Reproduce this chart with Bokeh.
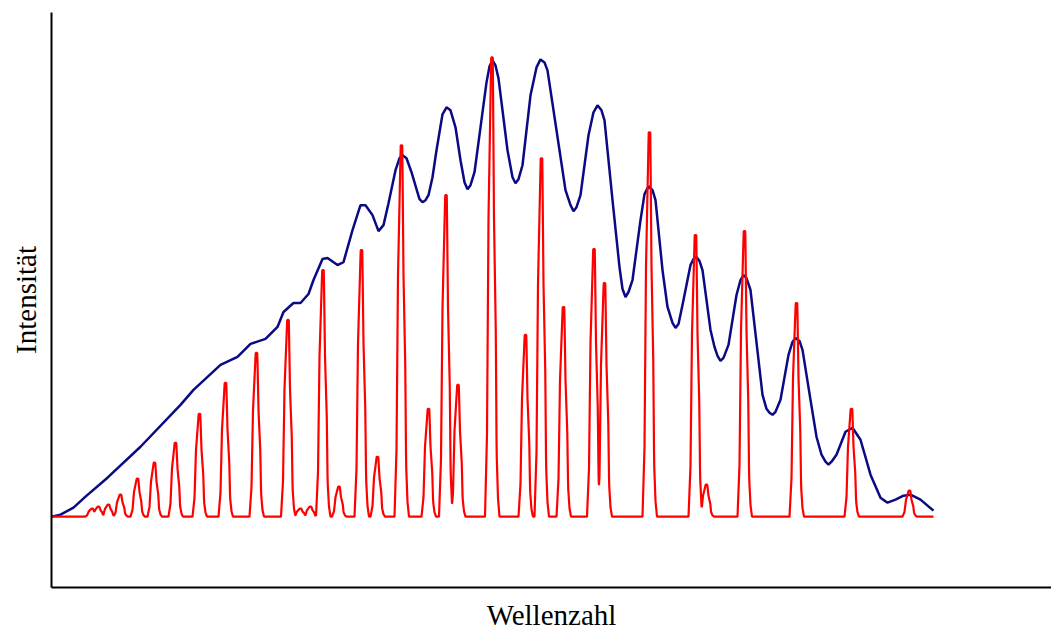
import numpy as np
from bokeh.plotting import figure
from bokeh.models import Range1d, FixedTicker
from bokeh.embed import file_html
from bokeh.resources import INLINE

# Envelope (blue, low resolution spectrum)
blue_x = [0, 9, 22, 34, 56, 89, 129, 142, 169, 186, 199, 214, 226, 232, 242, 249, 257, 262,
          271, 276, 286, 292, 301, 309, 314, 321, 327, 332, 337, 344, 348, 351, 355, 360,
          365, 368, 371, 374, 377, 381, 385, 391, 395, 399, 404, 409, 413, 416, 419, 423,
          429, 435, 438, 441, 444, 447, 456, 461, 464, 467, 471, 479, 485, 489, 493, 496,
          505, 514, 519, 522, 525, 529, 537, 542, 546, 550, 553, 561, 568, 571, 574, 577,
          581, 589, 593, 597, 601, 604, 611, 616, 621, 624, 627, 631, 639, 642, 645, 648,
          651, 659, 663, 666, 669, 672, 677, 685, 689, 692, 695, 699, 707, 711, 715, 718,
          721, 724, 729, 737, 741, 744, 748, 751, 759, 765, 770, 774, 777, 780, 785, 794,
          801, 809, 819, 829, 836, 844, 852, 859, 869, 882]
blue_y = [0, 2, 9, 20, 39, 70, 112, 127, 152, 160, 173, 178, 190, 205, 214, 214, 223, 237,
          258, 259, 252, 255, 287, 312, 312, 302, 286, 292, 314, 347, 359, 362, 359, 345,
          328, 318, 315, 317, 322, 340, 367, 403, 410, 407, 390, 357, 335, 328, 332, 345,
          390, 435, 451, 457, 452, 439, 367, 340, 334, 338, 352, 422, 450, 458, 455, 447,
          387, 327, 312, 306, 310, 322, 382, 405, 412, 407, 397, 317, 250, 228, 220, 225,
          237, 297, 323, 331, 327, 317, 247, 210, 194, 189, 193, 212, 252, 258, 260, 256,
          247, 187, 170, 161, 156, 159, 172, 222, 237, 242, 239, 227, 157, 122, 108, 104,
          102, 105, 117, 162, 175, 179, 176, 167, 117, 80, 62, 55, 52, 55, 62, 85,
          89, 77, 42, 19, 14, 17, 21, 22, 17, 6]

# Line spectrum (red): peak positions and heights
peak_pos = [40.7, 47, 57, 69, 86, 103, 124, 148, 174, 205, 236.5, 249, 259, 271.5, 287.5,
            310, 326, 350, 377, 394.5, 406.5, 440.5, 474, 490, 512, 542.5, 553, 598, 644,
            655, 693, 745, 800, 858]
peak_height = [8, 10, 12, 22, 38, 54, 74, 103, 134, 164, 197, 8, 10, 247, 30,
               267, 60, 372, 108, 322, 132, 460, 182, 359, 210, 268, 234, 385, 282,
               32, 286, 214, 108, 26]
x_start, x_end = 0, 882

# peak line shape (style)
prof_dx = np.array([-7.0, -5.0, -3.5, -0.8, 0.8, 2.0, 3.8, 4.6, 6.0, 7.5])
prof_f = np.array([0, 0.18, 0.65, 1, 1, 0.65, 0.4, 0.14, 0.04, 0])

gx = np.arange(x_start, x_end + 0.25, 0.25)
gy = np.zeros_like(gx)
for c, h in zip(peak_pos, peak_height):
    gy = np.maximum(gy, h * np.interp(gx - c, prof_dx, prof_f, left=0, right=0))

p = figure(width=1051, height=633, output_backend="svg", toolbar_location=None,
           x_range=Range1d(0, 1000), y_range=Range1d(-71, 505),
           min_border_left=51, min_border_right=0, min_border_top=12, min_border_bottom=45)
p.xgrid.visible = False
p.ygrid.visible = False
p.outline_line_color = None
p.background_fill_color = "white"
p.border_fill_color = "white"

for ax in (p.xaxis[0], p.yaxis[0]):
    ax.ticker = FixedTicker(ticks=[])
    ax.major_tick_line_color = None
    ax.minor_tick_line_color = None
    ax.major_label_text_font_size = "0px"
    ax.axis_line_color = "black"
    ax.axis_line_width = 2
    ax.axis_label_text_font = "Liberation Serif"
    ax.axis_label_text_font_size = "29px"
    ax.axis_label_text_font_style = "normal"
    ax.axis_label_text_color = "black"

p.yaxis.axis_label = "Intensität"
p.yaxis.axis_label_standoff = 10
p.xaxis.axis_label = "Wellenzahl"
p.xaxis.axis_label_standoff = 11

p.line(blue_x, blue_y, line_color="#0a0a84", line_width=2.5)
p.line(gx, gy, line_color="#ff0000", line_width=2.2)

open("out.html", "w").write(file_html(p, INLINE))
